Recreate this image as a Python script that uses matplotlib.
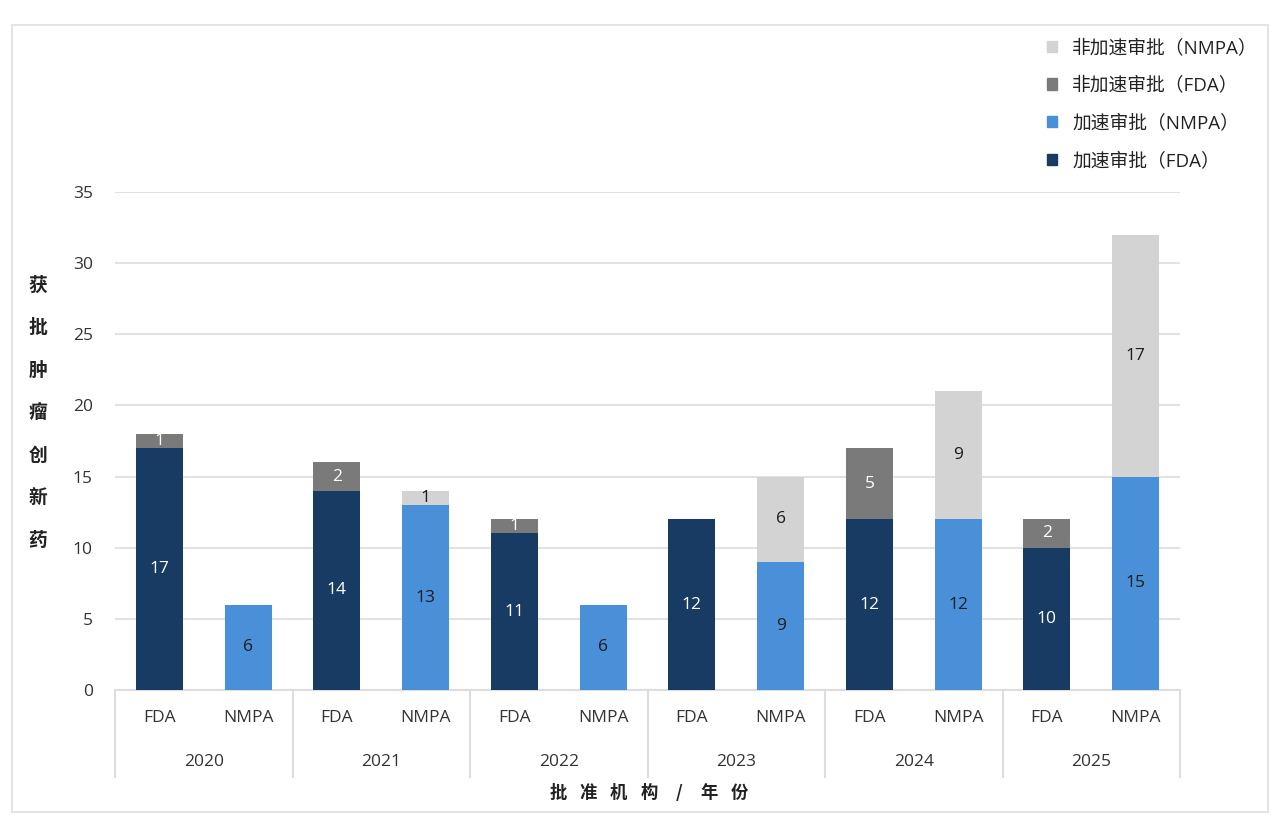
import numpy as np
import matplotlib
matplotlib.use('Agg')
import matplotlib.pyplot as plt
from matplotlib.patches import Patch, Rectangle
from matplotlib.transforms import blended_transform_factory as blend

plt.rcParams['font.family'] = ['Open Sans', 'Noto Sans CJK SC', 'DejaVu Sans']

years = ['2020', '2021', '2022', '2023', '2024', '2025']
agencies = ['FDA', 'NMPA']
fda_acc = [17, 14, 11, 12, 12, 10]
fda_non = [1, 2, 1, 0, 5, 2]
nmpa_acc = [6, 13, 6, 9, 12, 15]
nmpa_non = [0, 1, 0, 6, 9, 17]
yticks = [0, 5, 10, 15, 20, 25, 30, 35]

C_NAVY = '#173b63'
C_BLUE = '#4a90d9'
C_GRAY = '#7a7a7a'
C_LGRAY = '#d3d3d3'
TXT = '#333333'
FS = 12.5

fig = plt.figure(figsize=(12.82, 8.3), dpi=100)
ax = fig.add_axes([115/1282, 140/830, 1065/1282, 498/830])

# outer frame
fig.patches.append(Rectangle((12/1282, 18/830), 1256/1282, 787/830,
                             transform=fig.transFigure, fill=False,
                             edgecolor='#e3e3e3', lw=1.5, zorder=0))

n = len(years)
x_fda = np.arange(n) * 2
x_nmpa = x_fda + 1
w = 0.53

ax.bar(x_fda, fda_acc, w, color=C_NAVY, zorder=3)
ax.bar(x_fda, fda_non, w, bottom=fda_acc, color=C_GRAY, zorder=3)
ax.bar(x_nmpa, nmpa_acc, w, color=C_BLUE, zorder=3)
ax.bar(x_nmpa, nmpa_non, w, bottom=nmpa_acc, color=C_LGRAY, zorder=3)

def label(xs, vals, bottoms, col):
    for x, v, b in zip(xs, vals, bottoms):
        if v > 0:
            ax.text(x, b + v / 2, str(v), ha='center', va='center',
                    fontsize=FS, color=col, zorder=4)

label(x_fda, fda_acc, [0]*n, 'white')
label(x_fda, fda_non, fda_acc, 'white')
label(x_nmpa, nmpa_acc, [0]*n, '#1c1c1c')
label(x_nmpa, nmpa_non, nmpa_acc, '#1c1c1c')

ax.set_xlim(-0.5, 2*n - 0.5)
ax.set_ylim(0, 35)
ax.set_yticks(yticks)
ax.set_yticklabels([str(t) for t in yticks], fontsize=FS, color=TXT)
ax.tick_params(axis='y', length=0, pad=16)
ax.set_xticks([])
ax.grid(axis='y', color='#e2e2e2', lw=1.5, zorder=0)
for s in ['top', 'right', 'left']:
    ax.spines[s].set_visible(False)
ax.spines['bottom'].set_color('#dddddd')
ax.spines['bottom'].set_linewidth(1.5)

tr = blend(ax.transData, ax.transAxes)
for i in range(n + 1):
    ax.plot([2*i - 0.5, 2*i - 0.5], [0, -0.175], color='#dddddd', lw=1.5,
            transform=tr, clip_on=False)
for i, yr in enumerate(years):
    for j, ag in enumerate(agencies):
        ax.text(2*i + j, -0.056, ag, transform=tr, ha='center', va='center',
                fontsize=FS, color=TXT)
    ax.text(2*i + 0.5, -0.145, yr, transform=tr, ha='center', va='center',
            fontsize=FS, color=TXT)

# x label, letter-spaced
xlab = ['批', '准', '机', '构', '/', '年', '份']
for k, ch in enumerate(xlab):
    fig.text((558 + 30.3*k)/1282, 1 - 793/830, ch, ha='center', va='center',
             fontsize=12.5, fontweight='bold', color='#222222',
             family=['Noto Sans CJK SC', 'DejaVu Sans'])

ylab = '获批肿瘤创新药'
for k, ch in enumerate(ylab):
    fig.text(38/1282, 1 - (285 + 42.5*k)/830, ch, ha='center', va='center',
             fontsize=13.5, fontweight='bold', color='#222222',
             family=['Noto Sans CJK SC', 'DejaVu Sans'])

handles = [Patch(color=C_LGRAY), Patch(color=C_GRAY),
           Patch(color=C_BLUE), Patch(color=C_NAVY)]
labels = ['非加速审批（NMPA）', '非加速审批（FDA）', '加速审批（NMPA）', '加速审批（FDA）']
leg = fig.legend(handles, labels, loc='upper left',
                 bbox_to_anchor=(1030/1282, 1 - 22/830), frameon=False,
                 prop={'size': 13.5, 'weight': 'medium'},
                 handlelength=0.55, handleheight=0.55,
                 handletextpad=0.8, labelspacing=1.05)
for t in leg.get_texts():
    t.set_color('#222222')

fig.savefig('out.png', dpi=100)
